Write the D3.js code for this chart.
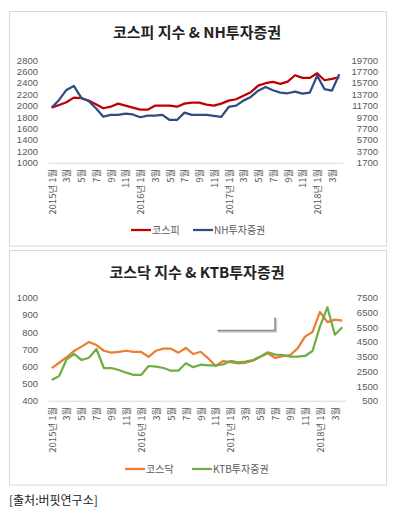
<!DOCTYPE html>
<html>
<head>
<meta charset="utf-8">
<script src="https://cdn.jsdelivr.net/npm/d3@7"></script>
<style>
  body { margin: 0; background: #fff; }
  svg text { font-family: "Noto Sans CJK KR", "Noto Sans", sans-serif; }
  svg .num text { font-family: "Liberation Sans", Arial, sans-serif; }
</style>
</head>
<body>
<div id="chart"></div>
<script>
// month categories (Jan 2015 - Apr 2018)
const months = ["2015년 1월","2월","3월","4월","5월","6월","7월","8월","9월","10월","11월","12월",
    "2016년 1월","2월","3월","4월","5월","6월","7월","8월","9월","10월","11월","12월",
    "2017년 1월","2월","3월","4월","5월","6월","7월","8월","9월","10월","11월","12월",
    "2018년 1월","2월","3월","4월"];

// 코스피 / NH투자증권
const kospi = [1965, 2012, 2060, 2140, 2130, 2088, 2024, 1954, 1982, 2035, 2000, 1965, 1930, 1930, 2000, 2000, 2000, 1982, 2035, 2052,
    2052, 2018, 2000, 2035, 2088, 2112, 2175, 2235, 2351, 2393, 2416, 2381, 2421, 2533, 2486, 2486, 2568, 2445, 2468, 2498];
const nh = [11350, 12700, 14450, 15150, 13100, 12520, 11240, 9770, 10070, 10100, 10300, 10150, 9670, 9950, 9950, 10070, 9190, 9190, 10470, 10070,
    10070, 10070, 9890, 9720, 11470, 11700, 12580, 13230, 14330, 14980, 14400, 13980, 13870, 14160, 13800, 13980, 16960, 14580, 14330, 17210];

// 코스닥 / KTB투자증권
const kosdaq = [590, 621, 653, 690, 715, 742, 724, 691, 680, 685, 691, 684, 684, 656, 691, 703, 703, 680, 707, 672,
    685, 647, 602, 631, 625, 618, 621, 633, 656, 676, 649, 660, 665, 705, 773, 800, 917, 858, 872, 866];
const ktb = [1907, 2179, 3314, 3674, 3266, 3422, 4014, 2722, 2722, 2586, 2403, 2247, 2247, 2858, 2811, 2722, 2539, 2539, 3042, 2780,
    2947, 2906, 2906, 2960, 3200, 3110, 3150, 3260, 3490, 3790, 3630, 3606, 3490, 3490, 3540, 3878, 5530, 6848, 4985, 5488];

// tick values
const kospiTicks = [1000, 1200, 1400, 1600, 1800, 2000, 2200, 2400, 2600, 2800];
const nhTicks = [1700, 3700, 5700, 7700, 9700, 11700, 13700, 15700, 17700, 19700];
const kosdaqTicks = [400, 500, 600, 700, 800, 900, 1000];
const ktbTicks = [500, 1500, 2500, 3500, 4500, 5500, 6500, 7500];

const svg = d3.select("#chart")
    .append("svg")
    .attr("width", 397)
    .attr("height", 514);

function drawPanel(opt) {
    // panel border
    svg.append("rect")
        .attr("x", 9.5).attr("y", opt.top)
        .attr("width", 377).attr("height", opt.h)
        .attr("fill", "#fff")
        .attr("stroke", "#d9d9d9");

    svg.append("text")
        .attr("x", 197)
        .attr("y", opt.titleY)
        .attr("text-anchor", "middle")
        .style("font-size", "15px")
        .style("font-weight", "bold")
        .attr("fill", "#222")
        .text(opt.title);

    const x = d3.scalePoint()
        .domain(d3.range(months.length))
        .range([48, opt.xEnd])
        .padding(0.5);

    const yL = d3.scaleLinear().domain(opt.leftDomain).range([opt.yBottom, opt.yTop]);
    const yR = d3.scaleLinear().domain(opt.rightDomain).range([opt.yBottom, opt.yTop]);

    // left axis
    const gl = svg.append("g")
        .attr("class", "num")
        .attr("transform", `translate(48, 0)`)
        .call(d3.axisLeft(yL).tickValues(opt.leftTicks).tickSize(0).tickPadding(10).tickFormat(d3.format("d")));
    gl.select(".domain").remove();
    gl.selectAll("text").style("font-size", "9.5px").attr("fill", "#595959");

    // right axis
    const gr = svg.append("g")
        .attr("class", "num")
        .attr("transform", `translate(${opt.xEnd}, 0)`)
        .call(d3.axisRight(yR).tickValues(opt.rightTicks).tickSize(0).tickFormat(d3.format("d")));
    gr.select(".domain").remove();
    gr.selectAll("text")
        .attr("x", 378 - opt.xEnd)
        .attr("text-anchor", "end")
        .style("font-size", "9.5px")
        .attr("fill", "#595959");

    // x axis
    const gx = svg.append("g")
        .attr("transform", `translate(0, ${opt.yBottom})`)
        .call(d3.axisBottom(x)
            .tickValues(d3.range(0, months.length, 2))
            .tickFormat(i => months[i])
            .tickSize(0)
            .tickSizeOuter(0));
    gx.select(".domain").attr("stroke", "#d9d9d9");
    gx.selectAll("text")
        .attr("transform", "rotate(-90)")
        .attr("text-anchor", "end")
        .attr("x", -6)
        .attr("y", 0)
        .attr("dy", "0.35em")
        .style("font-size", "9.5px")
        .attr("fill", "#595959");

    // lines
    const lineL = d3.line().x((d, i) => x(i)).y(d => yL(d));
    const lineR = d3.line().x((d, i) => x(i)).y(d => yR(d));

    svg.append("path")
        .datum(opt.leftData)
        .attr("fill", "none")
        .attr("stroke", opt.leftColor)
        .attr("stroke-width", 2.25)
        .attr("stroke-linejoin", "round")
        .attr("d", lineL);

    svg.append("path")
        .datum(opt.rightData)
        .attr("fill", "none")
        .attr("stroke", opt.rightColor)
        .attr("stroke-width", 2.25)
        .attr("stroke-linejoin", "round")
        .attr("d", lineR);

    // legend
    const leg = svg.append("g").attr("transform", `translate(0, ${opt.legendY})`);
    opt.legend.forEach(function (l) {
        leg.append("line")
            .attr("x1", l.x).attr("x2", l.x + 20)
            .attr("y1", 0).attr("y2", 0)
            .attr("stroke", l.color)
            .attr("stroke-width", 2.25);
        leg.append("text")
            .attr("x", l.x + 21)
            .attr("y", 0)
            .attr("dy", "0.35em")
            .style("font-size", "10px")
            .attr("fill", "#595959")
            .text(l.name);
    });
}

drawPanel({
    top: 11.5, h: 234.5, titleY: 38,
    title: "코스피 지수 & NH투자증권",
    xEnd: 343, yTop: 60, yBottom: 162.7,
    leftDomain: [1000, 2800], rightDomain: [1700, 19700],
    leftTicks: kospiTicks, rightTicks: nhTicks,
    leftData: kospi, rightData: nh,
    leftColor: "#c00000", rightColor: "#2f4c85",
    legendY: 230,
    legend: [
        { x: 131, name: "코스피", color: "#c00000" },
        { x: 193, name: "NH투자증권", color: "#2f4c85" }
    ]
});

drawPanel({
    top: 250.5, h: 234.5, titleY: 277.5,
    title: "코스닥 지수 & KTB투자증권",
    xEnd: 346, yTop: 297.7, yBottom: 400.7,
    leftDomain: [400, 1000], rightDomain: [500, 7500],
    leftTicks: kosdaqTicks, rightTicks: ktbTicks,
    leftData: kosdaq, rightData: ktb,
    leftColor: "#ed7d31", rightColor: "#70ad47",
    legendY: 469,
    legend: [
        { x: 125, name: "코스닥", color: "#ed7d31" },
        { x: 192, name: "KTB투자증권", color: "#70ad47" }
    ]
});

// stray box-shadow corner left in the original image
svg.append("path")
    .attr("d", "M218,331.5H276V318")
    .attr("fill", "none")
    .attr("stroke", "#d0d0d0")
    .attr("stroke-width", 2.5);
svg.append("path")
    .attr("d", "M217.5,330.5H275V317.5")
    .attr("fill", "none")
    .attr("stroke", "#8c8c8c")
    .attr("stroke-width", 1.5);

// source
svg.append("text")
    .attr("x", 9)
    .attr("y", 505)
    .style("font-size", "12px")
    .attr("fill", "#222")
    .text("[출처:버핏연구소]");
</script>
</body>
</html>
